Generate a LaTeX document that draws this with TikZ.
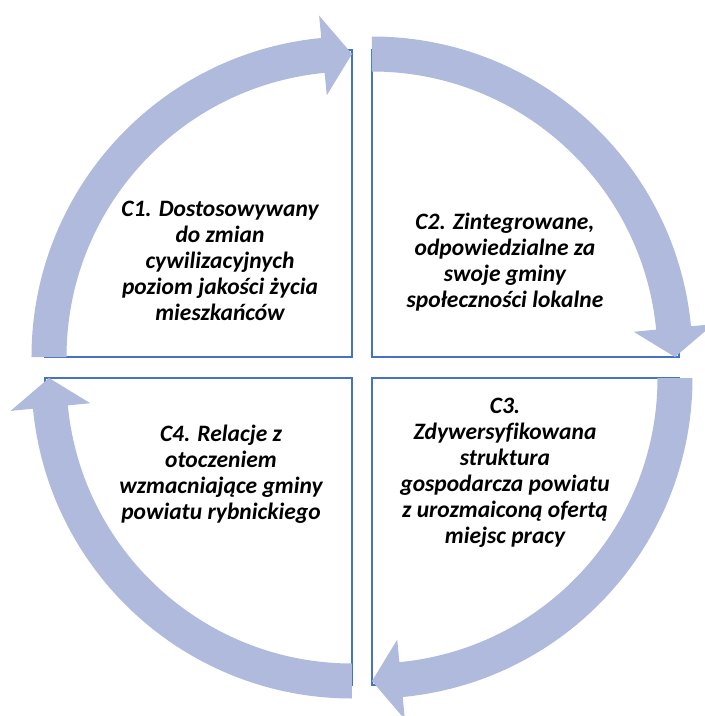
\documentclass[tikz,border=0pt]{standalone}
\usepackage{fontspec}
\newfontfamily\cycfont{Carlito Bold Italic}[Ligatures=NoCommon]
\usepackage{tikz}
\usetikzlibrary{calc}
\definecolor{cycblue}{RGB}{68,114,196}
\definecolor{cycarrow}{RGB}{175,186,221}

\begin{document}
\begin{tikzpicture}[x=1pt,y=1pt,font=\cycfont\fontsize{23.5}{26}\selectfont,
    every node/.style={align=center},
    quad/.style={draw=cycblue,line width=1.8pt,fill=white},
    cyc/.style={fill=cycarrow}]
  \useasboundingbox (-362,-348.5) rectangle (343,367.5);
  \clip (-362,-348.5) rectangle (343,367.5);
  % inner corners of the four quarters
  \coordinate (c1) at (-10,10.5);
  \coordinate (c2) at (10,10.5);
  \coordinate (c3) at (10,-10.5);
  \coordinate (c4) at (-10,-10.5);
  % quarter wedges
  \foreach \q/\a in {c1/180,c2/90,c3/0,c4/-90}
    \draw[quad] (\q) -- ++(\a:307) arc[start angle=\a,end angle=\a-90,radius=307] -- cycle;
  % curved block arrows
  \foreach \q/\a in {c1/180,c2/90,c3/0,c4/-90}
    \fill[cyc] ($(\q)+(\a:320.5)$) arc[start angle=\a,end angle=\a-84.5,radius=320.5]
      -- ($(\q)+(\a-84.5:343)$) -- ($(\q)+(\a-90:303)$) -- ($(\q)+(\a-84.5:263)$)
      -- ($(\q)+(\a-84.5:285.5)$) arc[start angle=\a-84.5,end angle=\a,radius=285.5] -- cycle;
  \node (t1) at ($(c1)+(-132,96)$) {C1. Dostosowywany\\do zmian\\cywilizacyjnych\\poziom jakości życia\\mieszkańców};
  \node (t2) at ($(c2)+(133,95)$) {C2. Zintegrowane,\\odpowiedzialne za\\swoje gminy\\społeczności lokalne};
  \node (t3) at ($(c3)+(133,-95)$) {C3.\\Zdywersyfikowana\\struktura\\gospodarcza powiatu\\z urozmaiconą ofertą\\miejsc pracy};
  \node (t4) at ($(c4)+(-131,-96)$) {C4. Relacje z\\otoczeniem\\wzmacniające gminy\\powiatu rybnickiego};
\end{tikzpicture}
\end{document}
